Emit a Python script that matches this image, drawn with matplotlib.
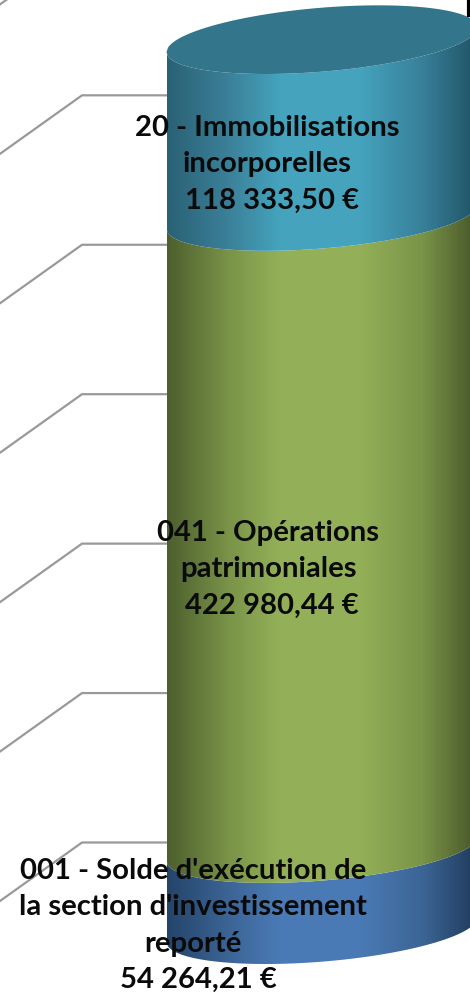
import numpy as np
import matplotlib
matplotlib.use('Agg')
import matplotlib.pyplot as plt
from matplotlib.colors import LinearSegmentedColormap
from matplotlib.patches import Polygon

# Data, bottom to top.
chapters = [["001 - Solde d'exécution de", "la section d'investissement", "reporté"],
            ["041 - Opérations", "patrimoniales"],
            ["20 - Immobilisations", "incorporelles"]]
values = [54264.21, 422980.44, 118333.50]
grid_values = [0, 100000, 200000, 300000, 400000, 500000, 600000]

colors = [['#24446a', '#3c6596', '#4a7ab5', '#4a7ab5', '#3c6596', '#1f3a5a'],
          ['#4d5f2e', '#7a9448', '#93b058', '#93b058', '#7a9448', '#465529'],
          ['#2a6175', '#3b8199', '#45a3bd', '#45a3bd', '#38809a', '#205264']]
cap_color = '#33758a'
grid_color = '#999999'

# Geometry, in pixels of the picture.
W, H = 470, 996
cyl_left, cyl_right = 166.5, 477.5
cx = (cyl_left + cyl_right) / 2
a = (cyl_right - cyl_left) / 2
b = 32.0
shear = -0.08
rim_low = np.sqrt((shear * a)**2 + b**2)   # lowest point of the rim under centre
y_zero = 964.0                             # pixel of value 0 on the cylinder
px_per_eur = 890.0 / sum(values)


def to_eur(py):
    return (y_zero - py) / px_per_eur


fig = plt.figure(figsize=(W / 100, H / 100), dpi=100)
ax = fig.add_axes([0, 0, 1, 1])
ax.axis('off')

# Back wall gridlines.
for g in grid_values:
    py = 842.5 - g * px_per_eur
    ax.plot([0, 82, cyl_left], [to_eur(py + 58.5), to_eur(py), to_eur(py)],
            '-', c=grid_color, lw=1.6, zorder=1)

# Stacked segments.
xs = np.linspace(cyl_left, cyl_right, 200)
cos_t = (xs - cx) / a
sin_t = np.sqrt(np.clip(1 - cos_t**2, 0, 1))
lower = (shear * (xs - cx) + b * sin_t - rim_low) / px_per_eur   # drop under the rim's lowest point
upper = (shear * (xs - cx) - b * sin_t - rim_low) / px_per_eur

start = 0.0
for val, cols in zip(values, colors):
    stop = start + val
    outline = np.r_[np.c_[xs, start - lower], np.c_[xs[::-1], (stop - lower)[::-1]]]
    cmap = LinearSegmentedColormap.from_list('seg', list(zip([0, .2, .36, .62, .82, 1], cols)))
    im = ax.imshow(np.linspace(0, 1, 256)[None, :], cmap=cmap, aspect='auto', zorder=2,
                   extent=[cyl_left, cyl_right, to_eur(H), to_eur(0)])
    patch = Polygon(outline, closed=True, transform=ax.transData, fc='none', ec='none')
    ax.add_patch(patch)
    im.set_clip_path(patch)
    start = stop

# Top of the cylinder.
cap = np.r_[np.c_[xs, start - lower], np.c_[xs[::-1], (start - upper)[::-1]]]
ax.add_patch(Polygon(cap, closed=True, fc=cap_color, ec='none', zorder=3))

ax.set_xlim(0, W)
ax.set_ylim(to_eur(H), to_eur(0))

# Labels.
label_x = [193, 268, 267]
label_y = [871, 533, 128]
value_dx = [5, 4, 5]
for lines, val, lx, ly, dx in zip(chapters, values, label_x, label_y, value_dx):
    txt = f'{val:,.2f}'.replace(',', ' ').replace('.', ',') + ' €'
    for i, line in enumerate(lines + [txt]):
        x = lx + dx if line is txt else lx
        ax.text(x, to_eur(ly + i * 36.3), line, ha='center', va='center', color='#0a0a0a',
                family='Lato', fontweight='bold', fontsize=21.1, zorder=5)

# Clipped remnant of a title at the top right corner.
ax.plot([468.5, 468.5], [to_eur(0), to_eur(17)], '-', c='k', lw=3, zorder=5, solid_capstyle='butt')

fig.savefig('out.png', dpi=100)
plt.close()
